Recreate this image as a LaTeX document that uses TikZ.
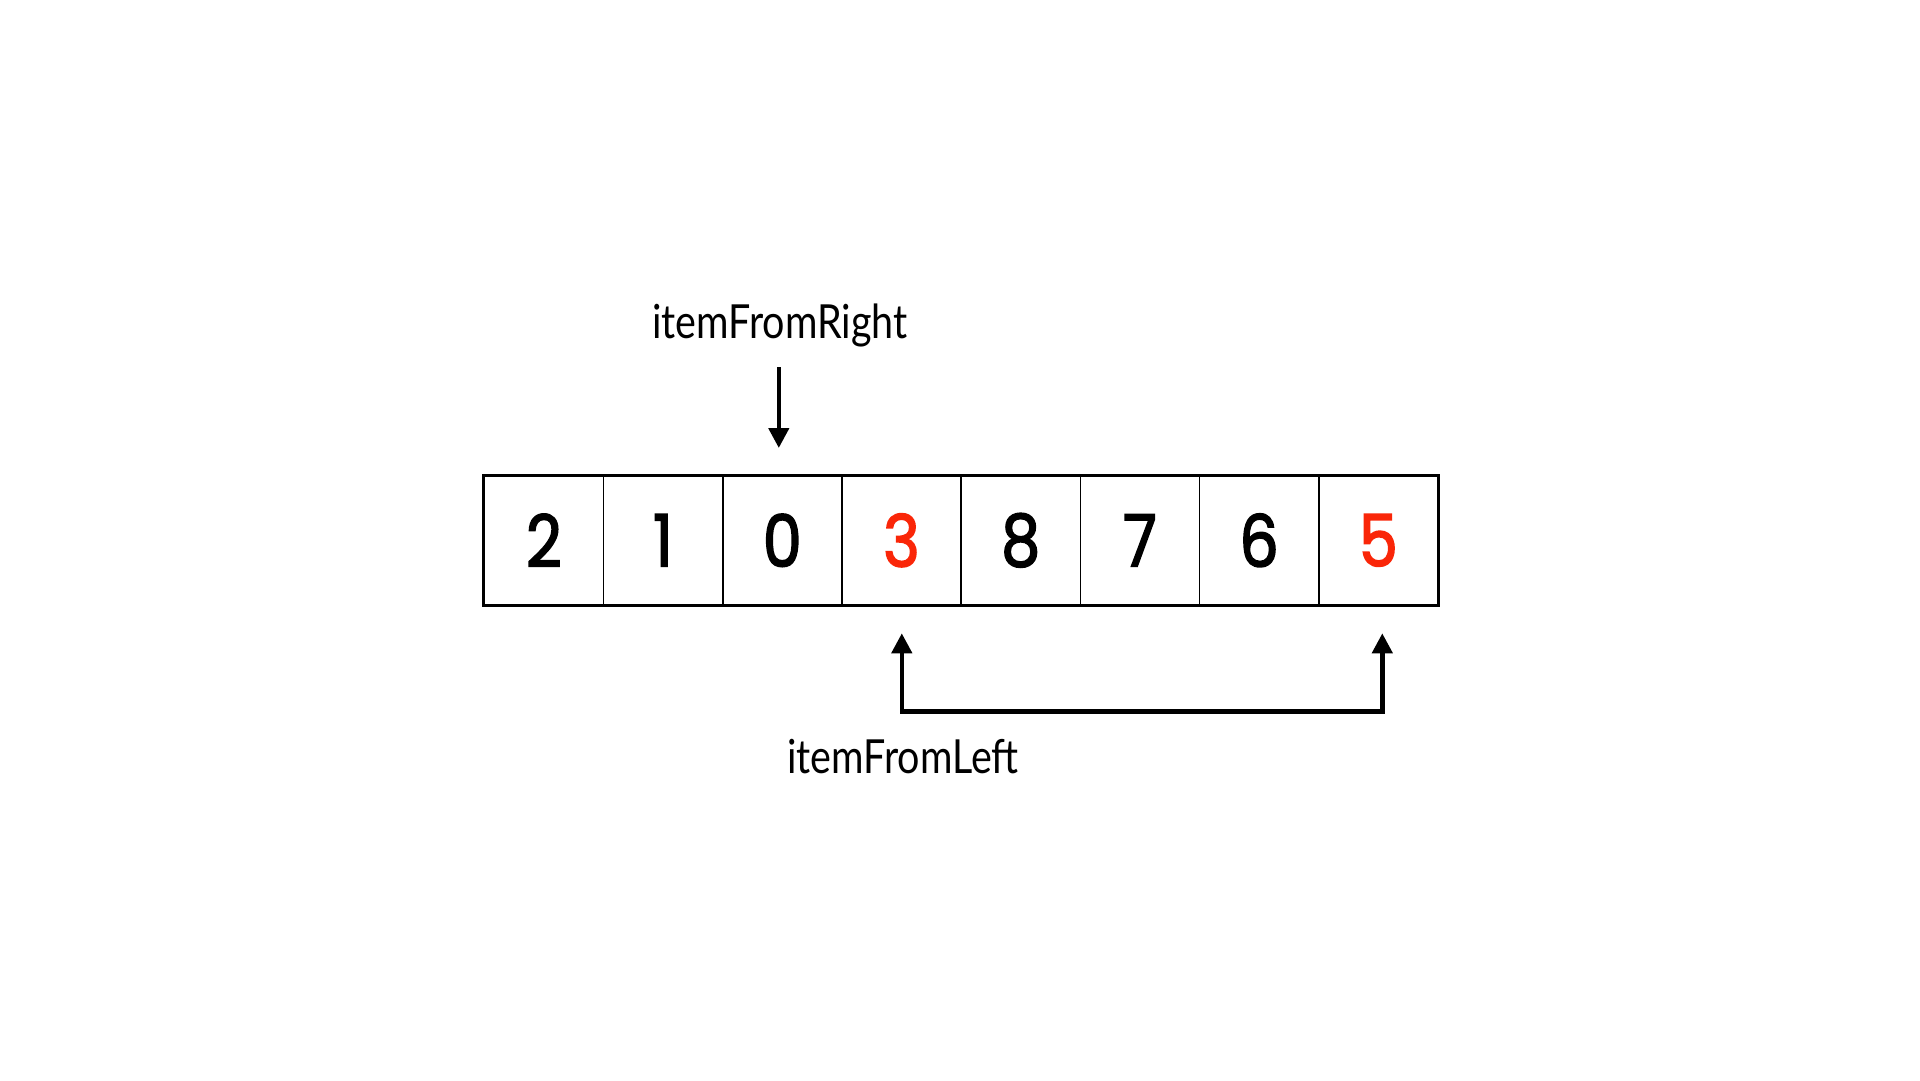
\documentclass[tikz,border=0pt]{standalone}
\usepackage{fontspec}
\usetikzlibrary{arrows.meta}
\newfontfamily\labelfont[FakeStretch=0.84]{Lato}
\newfontfamily\digitfont[FakeStretch=0.86,FakeBold=2.2]{Poppins}
\definecolor{hired}{RGB}{250,38,8}
\tikzset{
  cell/.style={draw=black, line width=1.6pt, minimum width=119.2pt, minimum height=129pt,
    inner sep=0pt, font=\digitfont\fontsize{72}{72}\selectfont, anchor=north west},
  lbl/.style={font=\labelfont\fontsize{47}{47}\selectfont, anchor=base, inner sep=0pt},
  ptr/.style={line width=4.5pt, -{Triangle[length=20pt,width=20pt]}},
  ptrs/.style={line width=4.5pt, line join=miter, {Triangle[length=20pt,width=20pt]}-{Triangle[length=20pt,width=20pt]}}
}
\begin{document}
\begin{tikzpicture}[x=1pt,y=-1pt]
\useasboundingbox[fill=white] (0,0) rectangle (1920,1080);
\node[cell] (c1) at (483.5,475) {2};
\node[cell] (c2) at (602.7,475) {1};
\node[cell] (c3) at (721.9,475) {0};
\node[cell, text=hired] (c4) at (841.1,475) {3};
\node[cell] (c5) at (960.3,475) {8};
\node[cell] (c6) at (1079.5,475) {7};
\node[cell] (c7) at (1198.7,475) {6};
\node[cell, text=hired] (c8) at (1317.9,475) {5};
\draw[line width=2.6pt] (c1.north west) rectangle (c8.south east);
\node[lbl] (lblR) at (780,338) {itemFromRight};
\node[lbl] (lblL) at (903,773) {itemFromLeft};
\draw[ptr] ([xshift=-3.5pt,yshift=108pt]c3.north) -- ([xshift=-3.5pt,yshift=27pt]c3.north);
\draw[ptrs] ([xshift=0.3pt,yshift=-27.7pt]c4.south) -- ++(0,78) -| ([xshift=4pt,yshift=-27.7pt]c8.south);
\end{tikzpicture}
\end{document}
